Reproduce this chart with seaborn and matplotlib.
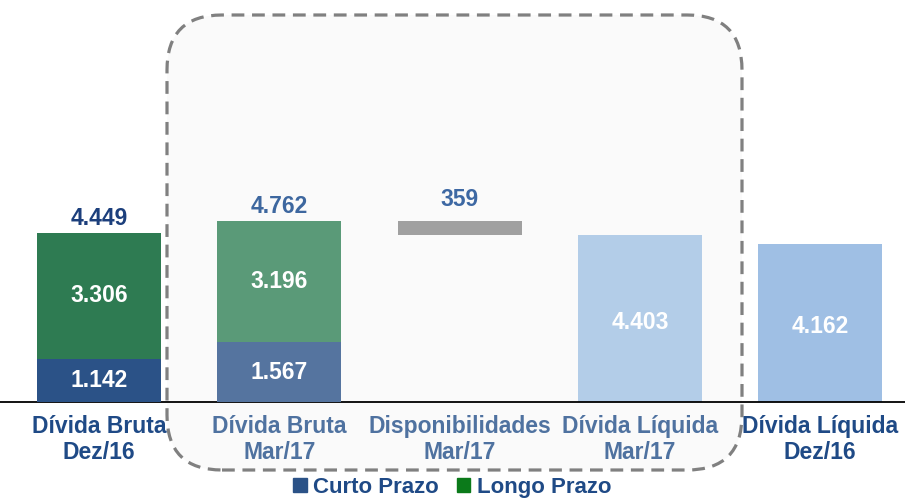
import matplotlib
matplotlib.use("Agg")
import matplotlib.pyplot as plt
import seaborn as sns
import pandas as pd
from matplotlib.patches import FancyBboxPatch, Patch
from matplotlib.transforms import IdentityTransform

# --- dados ---
categorias = ["Dívida Bruta\nDez/16", "Dívida Bruta\nMar/17", "Disponibilidades\nMar/17",
              "Dívida Líquida\nMar/17", "Dívida Líquida\nDez/16"]
curto_prazo = [1142, 1567, 0, 0, 0]
longo_prazo = [3306, 3196, 0, 0, 0]
totais = [4449, 4762, 0, 4403, 4162]
disponibilidades = 359
rotulos_totais = ["4.449", "4.762", "359", "4.403", "4.162"]
rotulos_curto = ["1.142", "1.567"]
rotulos_longo = ["3.306", "3.196"]

cores_topo = ["#2e7b52", "#5a9a78", "#ffffff", "#b3cde8", "#9fbfe4"]
cores_curto = ["#2b5287", "#55749f", "#ffffff", "#ffffff", "#ffffff"]
cores_cat = ["#1f4a86", "#4f72a0", "#4f72a0", "#4f72a0", "#1f4a86"]

sns.set_style("white")
plt.rcParams["font.family"] = ["Liberation Sans", "DejaVu Sans"]
plt.rcParams["font.weight"] = "bold"

fs = 16.5

fig = plt.figure(figsize=(9.05, 4.98), dpi=100)
fig.patch.set_facecolor("white")

# caixa tracejada arredondada (em pixels), atras dos eixos
caixa = FancyBboxPatch((167, 28), 575, 455, boxstyle="round,pad=0,rounding_size=55",
                       transform=IdentityTransform(), facecolor="#fafafa",
                       edgecolor="#808080", linewidth=2.3, linestyle=(0, (4, 2.4)),
                       zorder=-1)
fig.patches.append(caixa)

ax = fig.add_axes([0, 96 / 498, 1, 402 / 498])
ax.patch.set_alpha(0)

df = pd.DataFrame({"cat": categorias, "total": totais, "curto": curto_prazo})
largura = 0.688
sns.barplot(data=df, x="cat", y="total", hue="cat", palette=cores_topo, legend=False,
            width=largura, saturation=1, linewidth=0, ax=ax, zorder=2)
sns.barplot(data=df, x="cat", y="curto", hue="cat", palette=cores_curto, legend=False,
            width=largura, saturation=1, linewidth=0, ax=ax, zorder=3)
# remove barras vazias (valor zero)
for p in ax.patches:
    if p.get_height() == 0:
        p.set_visible(False)

# barra flutuante de disponibilidades
ax.bar(2, disponibilidades, bottom=totais[3], width=largura, color="#a0a0a0",
       linewidth=0, zorder=3)

ax.set_xlim(-0.549, 4.47)
ax.set_ylim(0, 10579)

# rotulos
cor_tot = ["#1c3f7c", "#3d679f", "#3d68a3"]
ax.text(0, totais[0] + 380, rotulos_totais[0], ha="center", va="center",
        fontsize=fs, color=cor_tot[0], fontweight="bold")
ax.text(1, totais[1] + 380, rotulos_totais[1], ha="center", va="center",
        fontsize=fs, color=cor_tot[1], fontweight="bold")
ax.text(2, totais[3] + disponibilidades + 560, rotulos_totais[2], ha="center", va="center",
        fontsize=fs, color=cor_tot[2], fontweight="bold")
for i in range(2):
    ax.text(i, curto_prazo[i] / 2, rotulos_curto[i], ha="center", va="center",
            fontsize=fs, color="white", fontweight="bold")
    ax.text(i, curto_prazo[i] + longo_prazo[i] / 2, rotulos_longo[i], ha="center",
            va="center", fontsize=fs, color="white", fontweight="bold")
for i in (3, 4):
    ax.text(i, totais[i] / 2 - 100, rotulos_totais[i], ha="center", va="center",
            fontsize=fs, color="white", fontweight="bold")

sns.despine(ax=ax, left=True, top=True, right=True)
ax.spines["bottom"].set_color("black")
ax.spines["bottom"].set_linewidth(1.3)
ax.set_yticks([])
ax.set_xlabel("")
ax.set_ylabel("")
ax.tick_params(axis="x", length=0, pad=9)
ax.set_xticks(range(5))
ax.set_xticklabels(categorias, fontsize=fs, fontweight="bold", linespacing=1.22)
for lbl, c in zip(ax.get_xticklabels(), cores_cat):
    lbl.set_color(c)

handles = [Patch(color="#2b5287", label="Curto Prazo"),
           Patch(color="#0b7a1a", label="Longo Prazo")]
leg = fig.legend(handles=handles, loc="lower center", bbox_to_anchor=(0.5, -0.04), ncol=2,
                 frameon=False, fontsize=16, handlelength=0.6, handleheight=0.6,
                 handletextpad=0.3, columnspacing=0.8)
for t in leg.get_texts():
    t.set_color("#1f4a86")
    t.set_fontweight("bold")

fig.savefig("out.png", dpi=100)
